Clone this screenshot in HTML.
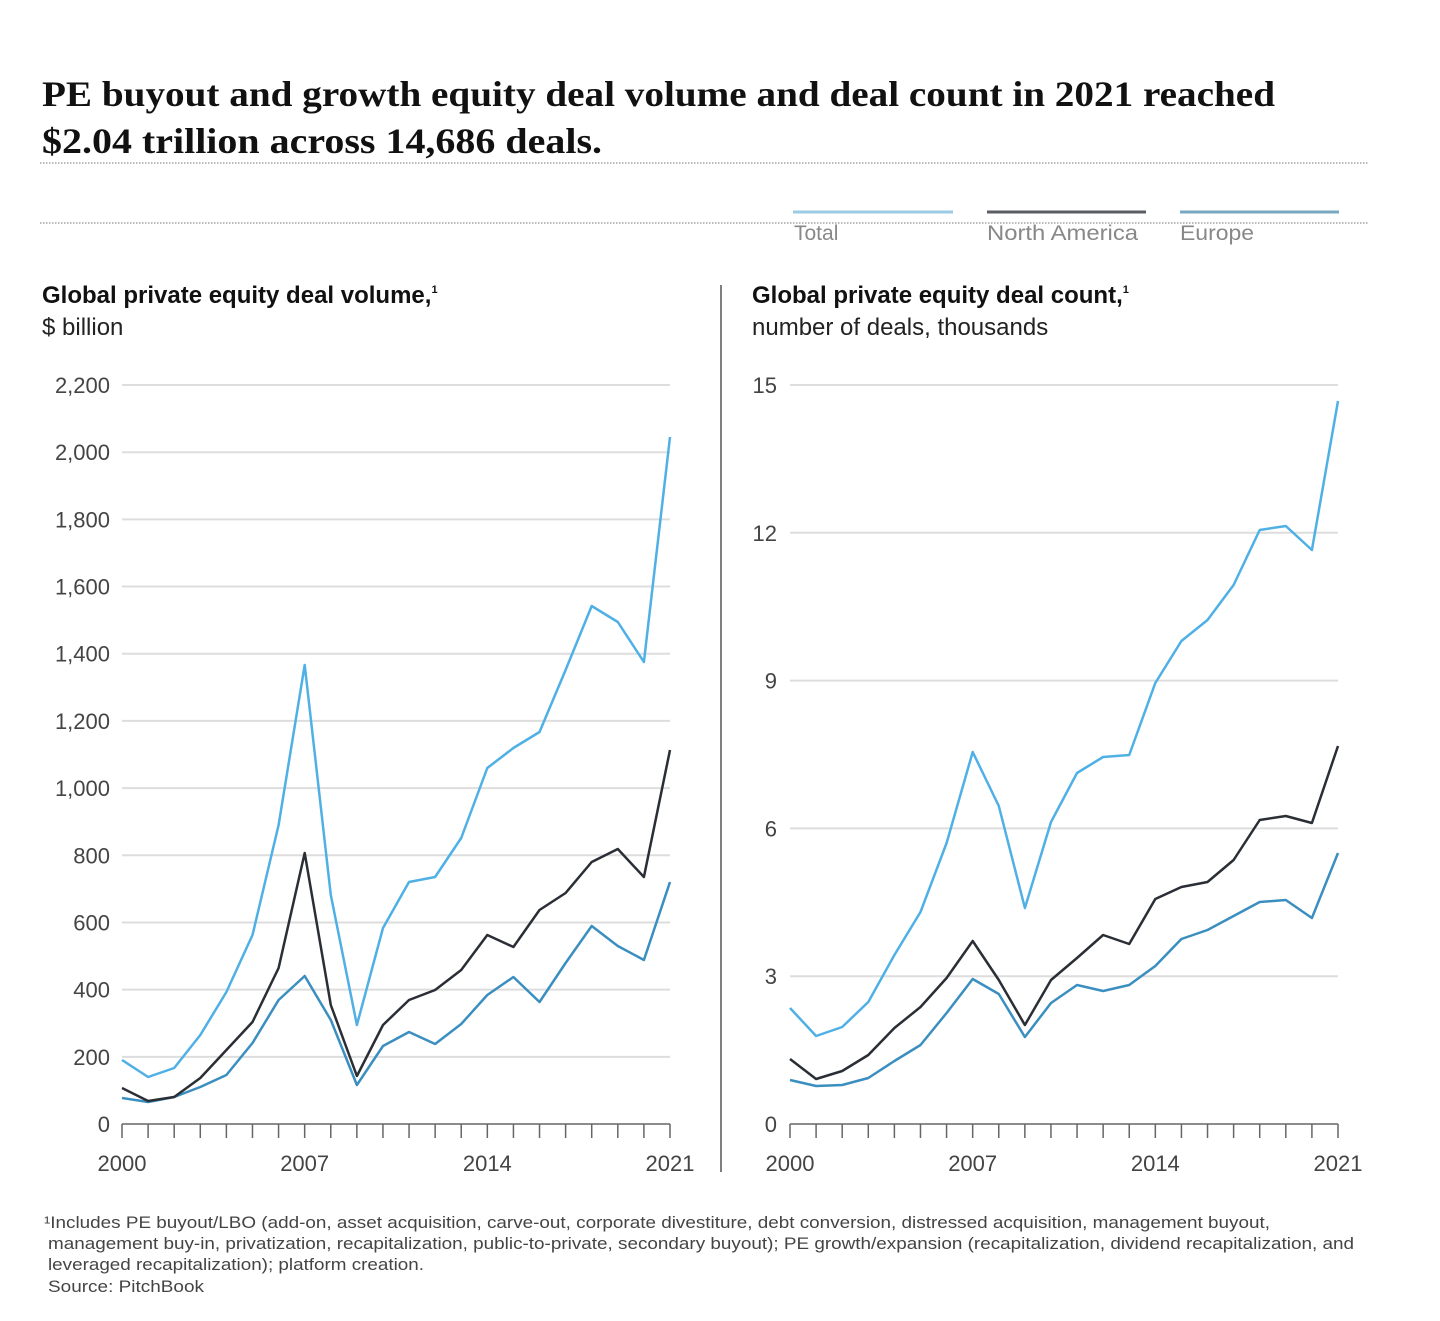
<!DOCTYPE html>
<html><head><meta charset="utf-8"><style>
body{margin:0;background:#fff;}
svg{display:block;}
</style></head><body>
<svg id="s" width="1440" height="1321" xmlns="http://www.w3.org/2000/svg" font-family="Liberation Sans, sans-serif">
<text x="42" y="106" font-family="Liberation Serif, serif" font-weight="bold" font-size="36" fill="#111" textLength="1233" lengthAdjust="spacingAndGlyphs">PE buyout and growth equity deal volume and deal count in 2021 reached</text>
<text x="42" y="153" font-family="Liberation Serif, serif" font-weight="bold" font-size="36" fill="#111" textLength="560" lengthAdjust="spacingAndGlyphs">$2.04 trillion across 14,686 deals.</text>
<line x1="40" y1="163" x2="1368" y2="163" stroke="#777" stroke-dasharray="1.5,1.5"/>
<line x1="40" y1="223" x2="1368" y2="223" stroke="#777" stroke-dasharray="1.5,1.5"/>
<line x1="793" y1="212" x2="953" y2="212" stroke="#9ccbe4" stroke-width="3"/>
<line x1="987" y1="212" x2="1146" y2="212" stroke="#5a5e63" stroke-width="3"/>
<line x1="1180" y1="212" x2="1339" y2="212" stroke="#79a9c2" stroke-width="3"/>
<g font-size="21" fill="#888"><text x="794" y="240">Total</text><text x="987" y="240" textLength="151" lengthAdjust="spacingAndGlyphs">North America</text><text x="1180" y="240" textLength="74" lengthAdjust="spacingAndGlyphs">Europe</text></g>
<text x="42" y="303" font-size="24" font-weight="bold" fill="#111">Global private equity deal volume,<tspan font-size="11" dy="-10">1</tspan></text>
<text x="42" y="335" font-size="24" fill="#222">$ billion</text>
<text x="752" y="303" font-size="24" font-weight="bold" fill="#111">Global private equity deal count,<tspan font-size="11" dy="-10">1</tspan></text>
<text x="752" y="335" font-size="24" fill="#222">number of deals, thousands</text>
<line x1="721" y1="285" x2="721" y2="1172" stroke="#555" stroke-width="1.5"/>
<g id="g"></g>
<g font-size="17" fill="#444">
<text x="44" y="1228" textLength="1226" lengthAdjust="spacingAndGlyphs">¹Includes PE buyout/LBO (add-on, asset acquisition, carve-out, corporate divestiture, debt conversion, distressed acquisition, management buyout,</text>
<text x="48" y="1249" textLength="1306" lengthAdjust="spacingAndGlyphs">management buy-in, privatization, recapitalization, public-to-private, secondary buyout); PE growth/expansion (recapitalization, dividend recapitalization, and</text>
<text x="48" y="1270" textLength="376" lengthAdjust="spacingAndGlyphs">leveraged recapitalization); platform creation.</text>
<text x="48" y="1292" textLength="156" lengthAdjust="spacingAndGlyphs">Source: PitchBook</text>
</g>
</svg>
<script>
var g=document.getElementById('g'),h='';
function ln(a,b,c,d,col,w){h+='<line x1="'+a+'" y1="'+b+'" x2="'+c+'" y2="'+d+'" stroke="'+col+'" stroke-width="'+w+'"/>';}
function tx(x,y,t,anc){h+='<text x="'+x+'" y="'+y+'" font-size="22" fill="#444" text-anchor="'+anc+'">'+t+'</text>';}
var L=[0,200,400,600,800,"1,000","1,200","1,400","1,600","1,800","2,000","2,200"];
for(var i=0;i<12;i++){var y=1124-i*67.18;if(i>0)ln(122,y,670,y,'#ddd',2);tx(110,y+8,L[i],'end');}
var R=[0,3,6,9,12,15];
for(var i=0;i<6;i++){var y=1124-i*147.8;if(i>0)ln(790,y,1338,y,'#ddd',2);tx(777,y+8,R[i],'end');}
[122,790].forEach(function(x0){ln(x0,1124,x0+548,1124,'#666',1.5);
for(var k=0;k<22;k++){var x=x0+k*548/21;ln(x,1124,x,1138,'#666',1.5);}
tx(x0,1171,'2000','middle');tx(x0+7*548/21,1171,'2007','middle');tx(x0+14*548/21,1171,'2014','middle');tx(x0+548,1171,'2021','middle');});
function pl(x0,ys,col){var p=ys.map(function(y,k){return (x0+k*548/21).toFixed(1)+','+y}).join(' ');
h+='<polyline points="'+p+'" fill="none" stroke="'+col+'" stroke-width="2.5" stroke-linejoin="round"/>';}
var TB='#4fb0e6',NA='#2a2e35',EU='#3a8fc0';
pl(122,[1098,1102,1097,1087,1075,1043,1000,976,1020,1085,1046,1032,1044,1024,995,977,1002,963,926,946,960,882],EU);
pl(122,[1088,1101,1097,1078,1050,1022,968,853,1005,1076,1025,1000,990,970,935,947,910,893,862,849,877,750],NA);
pl(122,[1060,1077,1068,1035,992,935,825,665,895,1025,928,882,877,838,768,748,732,670,606,622,662,437],TB);
pl(790,[1080,1086,1085,1078,1061,1045,1013,979,994,1037,1003,985,991,985,966,939,930,916,902,900,918,853],EU);
pl(790,[1059,1079,1071,1055,1028,1007,978,941,980,1025,980,958,935,944,899,887,882,860,820,816,823,746],NA);
pl(790,[1008,1036,1027,1002,955,912,843,752,806,908,822,773,757,755,683,641,620,585,530,526,550,401],TB);
g.innerHTML=h;
</script>
</body></html>
